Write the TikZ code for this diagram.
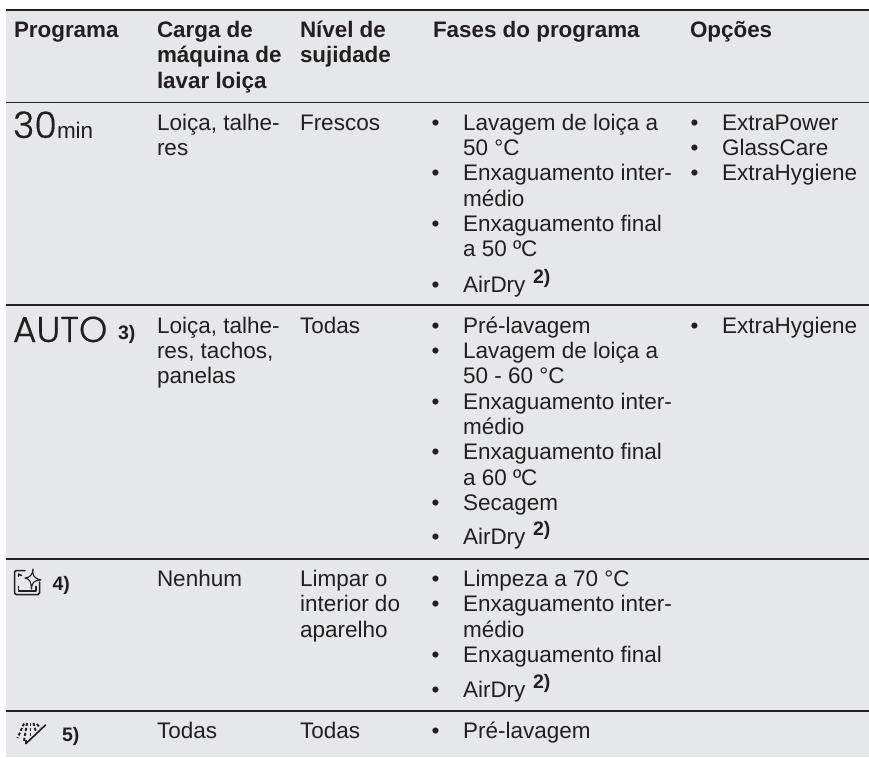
\documentclass[tikz,border=0pt]{standalone}
\usepackage{fontspec}
\setmainfont{Liberation Sans}
\newfontfamily\icnfont[UprightFont={* Light},UprightFeatures={FakeBold=0.5}]{Poppins}
\definecolor{bgcol}{HTML}{E6E7E8}
\definecolor{ink}{HTML}{231F20}
\newcounter{tn}
\newcommand{\fs}{\fontsize{22.5}{24}\selectfont}
\newcommand{\fsb}{\fontsize{22.4}{24}\bfseries\selectfont}
\newcommand{\fsr}{\fontsize{19.5}{24}\bfseries\selectfont}
\newcommand{\tl}[3]{\stepcounter{tn}\node[txt] (t\arabic{tn}) at (#1,#2+0.6) {\fs #3};}
\newcommand{\hd}[3]{\stepcounter{tn}\node[txt] (t\arabic{tn}) at (#1,#2+0.6) {\fsb #3};}
\newcommand{\rf}[3]{\stepcounter{tn}\node[txt] (t\arabic{tn}) at (#1,#2) {\fsr #3};}
\newcommand{\bu}[3]{\stepcounter{tn}\node[txt] (t\arabic{tn}) at (#1-5.5,#2+0.6) {\fs •};\stepcounter{tn}\node[txt] (t\arabic{tn}) at (#1+26,#2+0.6) {\fs #3};}
\begin{document}
\begin{tikzpicture}[x=1pt,y=-1pt,
  txt/.style={anchor=base west,inner sep=0pt,outer sep=0pt,text=ink},
  rulelight/.style={draw=ink,line width=1.7pt},
  ruleheavy/.style={draw=ink,line width=2.6pt},
  icon/.style={draw=ink,line width=1.5pt,line cap=round,line join=round},
  spray/.style={draw=ink,line width=1.9pt,dash pattern=on 3pt off 2pt}]
\useasboundingbox (0,0) rectangle (869,757);
\fill[bgcol] (6,10) rectangle (869,757);
\draw[ruleheavy] (6,10) -- (869,10);
\draw[rulelight] (6,102.5) -- (869,102.5);
\draw[rulelight] (6,305) -- (869,305);
\draw[rulelight] (6,559) -- (869,559);
\draw[rulelight] (6,711) -- (869,711);
% header
\hd{14}{36.5}{Programa}
\hd{157}{36.5}{Carga de}
\hd{157}{62}{máquina de}
\hd{157}{87.5}{lavar loiça}
\hd{300}{36.5}{Nível de}
\hd{300}{62}{sujidade}
\hd{433}{36.5}{Fases do programa}
\hd{690}{36.5}{Opções}
% row 1
\stepcounter{tn}\node[txt] (t\arabic{tn}) at (13,138) {\icnfont\fontsize{36.5}{35}\selectfont 30};
\stepcounter{tn}\node[txt] (t\arabic{tn}) at (57,138) {\fontsize{22.5}{22}\selectfont min};
\tl{157}{130}{Loiça, talhe-}
\tl{157}{155}{res}
\tl{300}{130}{Frescos}
\bu{437}{130}{Lavagem de loiça a}
\tl{463}{155}{50 °C}
\bu{437}{180}{Enxaguamento inter-}
\tl{463}{205.5}{médio}
\bu{437}{230.5}{Enxaguamento final}
\tl{463}{256}{a 50 ºC}
\bu{437}{292}{AirDry}
\rf{533}{283}{2)}
\bu{696}{130}{ExtraPower}
\bu{696}{155}{GlassCare}
\bu{696}{180}{ExtraHygiene}
% row 2
\stepcounter{tn}\node[txt] (t\arabic{tn}) at (13,342) {\icnfont\fontsize{36}{35}\selectfont AUTO};
\rf{118}{339}{3)}
\tl{157}{333}{Loiça, talhe-}
\tl{157}{358}{res, tachos,}
\tl{157}{383}{panelas}
\tl{300}{333}{Todas}
\bu{437}{333}{Pré-lavagem}
\bu{437}{358}{Lavagem de loiça a}
\tl{463}{383}{50 - 60 °C}
\bu{437}{409}{Enxaguamento inter-}
\tl{463}{434}{médio}
\bu{437}{459}{Enxaguamento final}
\tl{463}{485}{a 60 ºC}
\bu{437}{510}{Secagem}
\bu{437}{544}{AirDry}
\rf{533}{535}{2)}
\bu{696}{333}{ExtraHygiene}
% row 3
\rf{52.5}{590}{4)}
\tl{157}{586}{Nenhum}
\tl{300}{586}{Limpar o}
\tl{300}{611}{interior do}
\tl{300}{637}{aparelho}
\bu{437}{586}{Limpeza a 70 °C}
\bu{437}{611}{Enxaguamento inter-}
\tl{463}{637}{médio}
\bu{437}{662}{Enxaguamento final}
\bu{437}{697}{AirDry}
\rf{533}{688}{2)}
% row 4
\rf{62}{741.5}{5)}
\tl{157}{738}{Todas}
\tl{300}{738}{Todas}
\bu{437}{738}{Pré-lavagem}
% cleaning icon
\draw[icon] (25,570.5) -- (16,570.5) to[out=180,in=90] (14.5,572) -- (14.5,593) to[out=-90,in=180] (16,594.5) -- (38,594.5) to[out=0,in=-90] (39.5,593) -- (39.5,582);
\draw[icon] (18.5,586.5) -- (18.5,591) -- (36,591) -- (36,586.5);
\draw[icon,line width=1.1pt] (33,569) .. controls (32.5,575) and (33,578) .. (41,580) .. controls (33,580.5) and (32,583) .. (31.5,589) .. controls (31,582) and (30,579) .. (25,578) .. controls (30,577.5) and (32.5,575) .. (33,569) -- cycle;
\draw[icon] (18.5,576) -- (18.5,574) -- (21.5,575.5);
% prewash icon
\draw[icon,line width=1.6pt] (26,743.5) -- (45.5,725);
\draw[icon,line width=1.3pt] (26,743.5) -- (26,740.5);
\draw[spray] (24,723.5) -- (17.5,738);
\draw[spray] (27,723) -- (24,741);
\draw[spray] (30.5,723) -- (30.5,736);
\draw[spray] (33.5,723) -- (36,732);
\draw[spray] (37,724) -- (40,728);
\end{tikzpicture}
\end{document}
